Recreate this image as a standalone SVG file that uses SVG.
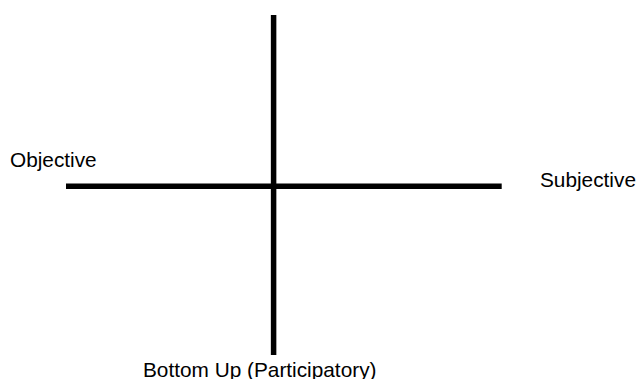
<svg xmlns="http://www.w3.org/2000/svg" width="637" height="379" viewBox="0 0 637 379">
<style>
.ax{stroke:#000;stroke-width:5.5;fill:none}
.lb{font-family:"Liberation Sans",Arial,sans-serif;font-size:20.8px;fill:#000}
</style>
<rect width="637" height="379" fill="#fff"/>
<g id="connectors">
<line class="ax" x1="273.6" y1="15" x2="273.6" y2="355"/>
<line class="ax" x1="66" y1="186.2" x2="501.7" y2="186.2"/>
</g>
<g id="objective"><text class="lb" x="10" y="166.7">Objective</text></g>
<g id="subjective"><text class="lb" x="540" y="186.7">Subjective</text></g>
<g id="bottom-up"><text class="lb" x="143" y="377.3">Bottom Up (Participatory)</text></g>
</svg>
